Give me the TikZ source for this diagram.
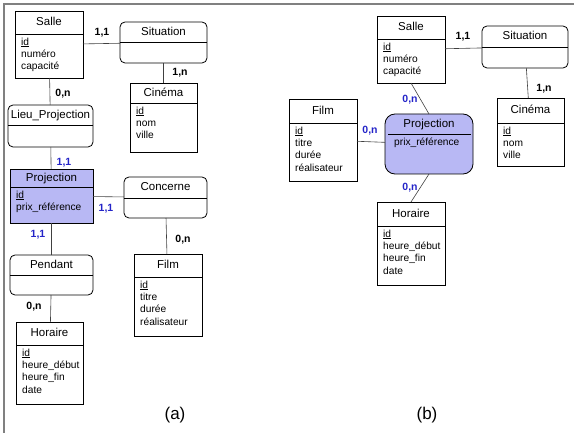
\documentclass[tikz,border=0pt]{standalone}
\usepackage{fontspec}
\setmainfont{Liberation Sans}

\definecolor{cardblue}{RGB}{36,36,200}
\definecolor{projfill}{RGB}{184,184,244}
\definecolor{framegray}{RGB}{128,128,128}

\tikzset{
  entbox/.style={draw, line width=0.8pt, inner sep=0pt, outer sep=0pt},
  relbox/.style={entbox, rounded corners=5pt},
  sepline/.style={line width=0.7pt},
  titletext/.style={anchor=base, inner sep=0pt, font=\fontsize{11.5}{13}\selectfont},
  attrtext/.style={anchor=north west, inner sep=0pt, align=left,
                   font=\fontsize{10.2}{12.4}\selectfont},
  link/.style={draw=black!75, line width=0.6pt},
  card/.style={inner sep=0pt, font=\fontsize{10.5}{12}\selectfont\bfseries},
  cardb/.style={card, text=cardblue},
  caption/.style={inner sep=0pt, font=\fontsize{17}{19}\selectfont},
  framebar/.style={draw=framegray, line width=1.3pt},
}

% entity box: [style] name, x1, y1, x2, y2, y of separator, title, attributes
\newcommand{\ent}[9][]{%
  \node[entbox, #1, minimum width={(#5-#3)*1pt}, minimum height={(#6-#4)*1pt}]
    (#2) at ({(#3+#5)/2},{(#4+#6)/2}) {};
  \draw[sepline] (#3,#7) -- (#5,#7);
  \node[titletext] (#2-titre) at ({(#3+#5)/2},{(#4+#7)/2+3.5}) {#8};
  \node[attrtext] (#2-attr) at (#3+6,#7+3.5) {#9};
}
% association box with header only: name, x1, y1, x2, y2, y of separator, title
\newcommand{\rel}[7]{%
  \node[relbox, minimum width={(#4-#2)*1pt}, minimum height={(#5-#3)*1pt}]
    (#1) at ({(#2+#4)/2},{(#3+#5)/2}) {};
  \draw[sepline] (#2,#6) -- (#4,#6);
  \node[titletext] (#1-titre) at ({(#2+#4)/2},{(#3+#6)/2+3.5}) {#7};
}

\begin{document}
\begin{tikzpicture}[x=1pt, y=-1pt]
  \useasboundingbox (0,0) rectangle (574,433);

  % page frame
  \draw[framebar] (4,433) -- (4,4) -- (574,4);

  % ---------- schema (a) ----------
  \ent{salleA}{15}{11}{83}{78}{34}{Salle}{\underline{id}\\numéro\\capacité}
  \rel{situA}{120}{22}{207}{63}{42}{Situation}
  \ent{cinemaA}{130}{83}{197}{152}{103}{Cinéma}{\underline{id}\\nom\\ville}
  \rel{lieuA}{8}{105}{93}{147}{125}{Lieu\_Projection}
  \ent[fill=projfill]{projA}{10}{169}{93}{223}{187}{Projection}{\underline{id}\\prix\_référence}
  \rel{concA}{124}{177}{207}{218}{198}{Concerne}
  \rel{pendA}{10}{255}{93}{295}{275}{Pendant}
  \ent{filmA}{134}{254}{202}{336}{277}{Film}{\underline{id}\\titre\\durée\\réalisateur}
  \ent{horA}{16}{322}{83}{404}{345}{Horaire}{\underline{id}\\heure\_début\\heure\_fin\\date}

  \draw[link] (salleA) -- (situA);
  \draw[link] (situA) -- (cinemaA);
  \draw[link] (salleA) -- (lieuA);
  \draw[link] (lieuA) -- (projA);
  \draw[link] (projA) -- (concA);
  \draw[link] (concA) -- (filmA);
  \draw[link] (projA) -- (pendA);
  \draw[link] (pendA) -- (horA);

  \node[card]  (cA1) at (102,33)  {1,1};
  \node[card]  (cA2) at (180,73)  {1,n};
  \node[card]  (cA3) at (63,94)   {0,n};
  \node[cardb] (cA4) at (64,163)  {1,1};
  \node[cardb] (cA5) at (106,209) {1,1};
  \node[cardb] (cA6) at (38,235)  {1,1};
  \node[card]  (cA7) at (183,240) {0,n};
  \node[card]  (cA8) at (34,307)  {0,n};

  \node[caption] (capA) at (175,415) {(a)};

  % ---------- schema (b) ----------
  \ent{salleB}{377}{16}{445}{83}{39}{Salle}{\underline{id}\\numéro\\capacité}
  \rel{situB}{482}{26}{568}{68}{47}{Situation}
  \ent{cinemaB}{497}{98}{564}{166}{123}{Cinéma}{\underline{id}\\nom\\ville}
  \ent{filmB}{289}{99}{357}{181}{123}{Film}{\underline{id}\\titre\\durée\\réalisateur}
  \ent{horB}{377}{202}{445}{285}{226}{Horaire}{\underline{id}\\heure\_début\\heure\_fin\\date}

  \node[entbox, fill=projfill, rounded corners=10pt, minimum width=88pt, minimum height=60pt]
    (projB) at (429,144) {};
  \draw[sepline] (388,134) -- (471,134);
  \node[titletext] (projB-titre) at (429,128) {Projection};
  \node[attrtext] (projB-attr) at (394,138) {prix\_référence};

  \draw[link] (salleB) -- (situB);
  \draw[link] (situB) -- (cinemaB);
  \draw[link] (salleB.south) -- (projB.north);
  \draw[link] (filmB) -- (projB);
  \draw[link] (projB.south) -- (horB.north);

  \node[card]  (cB1) at (463,37)  {1,1};
  \node[card]  (cB2) at (544,89)  {1,n};
  \node[cardb] (cB3) at (410,100) {0,n};
  \node[cardb] (cB4) at (370,131) {0,n};
  \node[cardb] (cB5) at (410,188) {0,n};

  \node[caption] (capB) at (427,415) {(b)};
\end{tikzpicture}
\end{document}
